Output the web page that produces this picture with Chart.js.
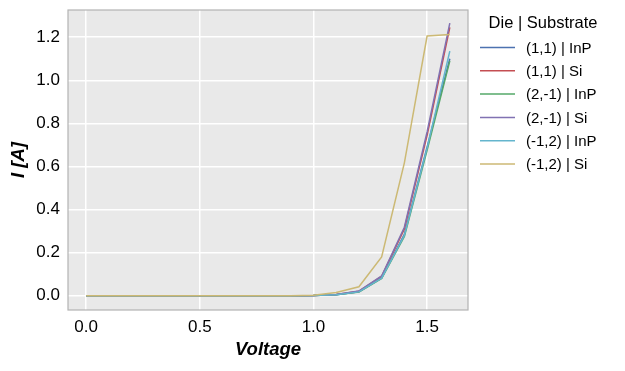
<!DOCTYPE html>
<html>
<head>
<meta charset="utf-8">
<script src="https://cdn.jsdelivr.net/npm/chart.js@4/dist/chart.umd.min.js"></script>
<style>
  html, body { margin: 0; padding: 0; background: #ffffff; }
  #wrap { width: 625px; height: 371px; }
</style>
</head>
<body>
<div id="wrap"><canvas id="c" width="625" height="371"></canvas></div>
<script>
const voltage = [0.0, 0.1, 0.2, 0.3, 0.4, 0.5, 0.6, 0.7, 0.8, 0.9, 1.0, 1.1, 1.2, 1.3, 1.4, 1.5, 1.6];
const seriesLabels = ['(1,1) | InP', '(1,1) | Si', '(2,-1) | InP', '(2,-1) | Si', '(-1,2) | InP', '(-1,2) | Si'];
const inp_1_1  = [0, 0, 0, 0, 0, 0, 0, 0, 0, 0, 0.001, 0.005, 0.018, 0.083, 0.285, 0.690, 1.100];
const si_1_1   = [0, 0, 0, 0, 0, 0, 0, 0, 0, 0, 0.001, 0.006, 0.021, 0.090, 0.310, 0.745, 1.245];
const inp_2_m1 = [0, 0, 0, 0, 0, 0, 0, 0, 0, 0, 0.001, 0.005, 0.017, 0.080, 0.275, 0.675, 1.090];
const si_2_m1  = [0, 0, 0, 0, 0, 0, 0, 0, 0, 0, 0.001, 0.006, 0.022, 0.092, 0.318, 0.760, 1.265];
const inp_m1_2 = [0, 0, 0, 0, 0, 0, 0, 0, 0, 0, 0.001, 0.005, 0.018, 0.082, 0.280, 0.685, 1.135];
const si_m1_2  = [0, 0, 0, 0, 0, 0, 0, 0, 0, 0, 0.002, 0.015, 0.042, 0.180, 0.617, 1.205, 1.212];
const xTicks = [0.0, 0.5, 1.0, 1.5];
const yTicks = [0.0, 0.2, 0.4, 0.6, 0.8, 1.0, 1.2];
const legendTitle = 'Die | Substrate';
const xTitle = 'Voltage';
const yTitle = 'I [A]';

const seriesValues = [inp_1_1, si_1_1, inp_2_m1, si_2_m1, inp_m1_2, si_m1_2];
const colors = ['#4C72B0', '#C44E52', '#55A868', '#8172B2', '#64B5CD', '#CCB974'];
const FONT = "'Liberation Sans', Arial, sans-serif";

const datasets = seriesValues.map((vals, i) => ({
  label: seriesLabels[i],
  data: vals.map((v, j) => ({ x: voltage[j], y: v })),
  borderColor: colors[i],
  backgroundColor: colors[i],
  borderWidth: 1.5,
  pointRadius: 0,
  tension: 0,
  fill: false,
  order: seriesValues.length - i
}));

const bgPlugin = {
  id: 'bg',
  beforeDraw(chart) {
    const { ctx, chartArea: a } = chart;
    ctx.save();
    ctx.fillStyle = '#E9E9E9';
    ctx.fillRect(a.left, a.top, a.right - a.left, a.bottom - a.top);
    ctx.restore();
  },
  afterDraw(chart) {
    const { ctx, chartArea: a } = chart;
    ctx.save();
    ctx.strokeStyle = '#B3B3B3';
    ctx.lineWidth = 1.2;
    ctx.strokeRect(a.left, a.top, a.right - a.left, a.bottom - a.top);
    ctx.restore();
  }
};

const legendPlugin = {
  id: 'customLegend',
  afterDraw(chart) {
    const ctx = chart.ctx;
    ctx.save();
    ctx.fillStyle = '#000';
    ctx.textBaseline = 'middle';
    ctx.textAlign = 'center';
    ctx.font = '16.5px ' + FONT;
    ctx.fillText(legendTitle, 543, 23.5);
    ctx.font = '15px ' + FONT;
    ctx.textAlign = 'left';
    chart.data.datasets.forEach((ds, i) => {
      const y = 47.5 + i * 23.3;
      ctx.strokeStyle = ds.borderColor;
      ctx.lineWidth = 1.5;
      ctx.beginPath();
      ctx.moveTo(480, y);
      ctx.lineTo(515, y);
      ctx.stroke();
      ctx.fillStyle = '#000';
      ctx.fillText(ds.label, 526, y + 1);
    });
    ctx.restore();
  }
};

new Chart(document.getElementById('c'), {
  type: 'line',
  data: { datasets },
  plugins: [bgPlugin, legendPlugin],
  options: {
    responsive: false,
    animation: false,
    devicePixelRatio: 1,
    layout: { padding: { left: 0, top: 10, right: 157, bottom: 0 } },
    plugins: { legend: { display: false }, tooltip: { enabled: false } },
    scales: {
      x: {
        type: 'linear',
        min: -0.08,
        max: 1.68,
        afterBuildTicks: s => { s.ticks = xTicks.map(v => ({ value: v })); },
        afterFit: s => { s.height = 61; s.paddingLeft = 0; s.paddingRight = 0; },
        grid: { color: '#FFFFFF', lineWidth: 1.5, drawTicks: false },
        border: { display: false },
        ticks: {
          padding: 7,
          color: '#000',
          font: { family: FONT, size: 17 },
          callback: v => Number(v).toFixed(1),
          maxRotation: 0
        },
        title: {
          display: true,
          text: xTitle,
          color: '#000',
          font: { family: FONT, size: 18.5, weight: 'bold', style: 'italic' },
          padding: { top: 0, bottom: 10 }
        }
      },
      y: {
        type: 'linear',
        min: -0.066,
        max: 1.326,
        afterBuildTicks: s => { s.ticks = yTicks.map(v => ({ value: v })); },
        afterFit: s => { s.width = 68; s.paddingTop = 0; s.paddingBottom = 0; },
        grid: { color: '#FFFFFF', lineWidth: 1.5, drawTicks: false },
        border: { display: false },
        ticks: {
          padding: 8,
          color: '#000',
          font: { family: FONT, size: 17 },
          callback: v => Number(v).toFixed(1)
        },
        title: {
          display: true,
          text: yTitle,
          color: '#000',
          font: { family: FONT, size: 18.5, weight: 'bold', style: 'italic' },
          padding: { top: 8, bottom: 0 }
        }
      }
    }
  }
});
</script>
</body>
</html>
